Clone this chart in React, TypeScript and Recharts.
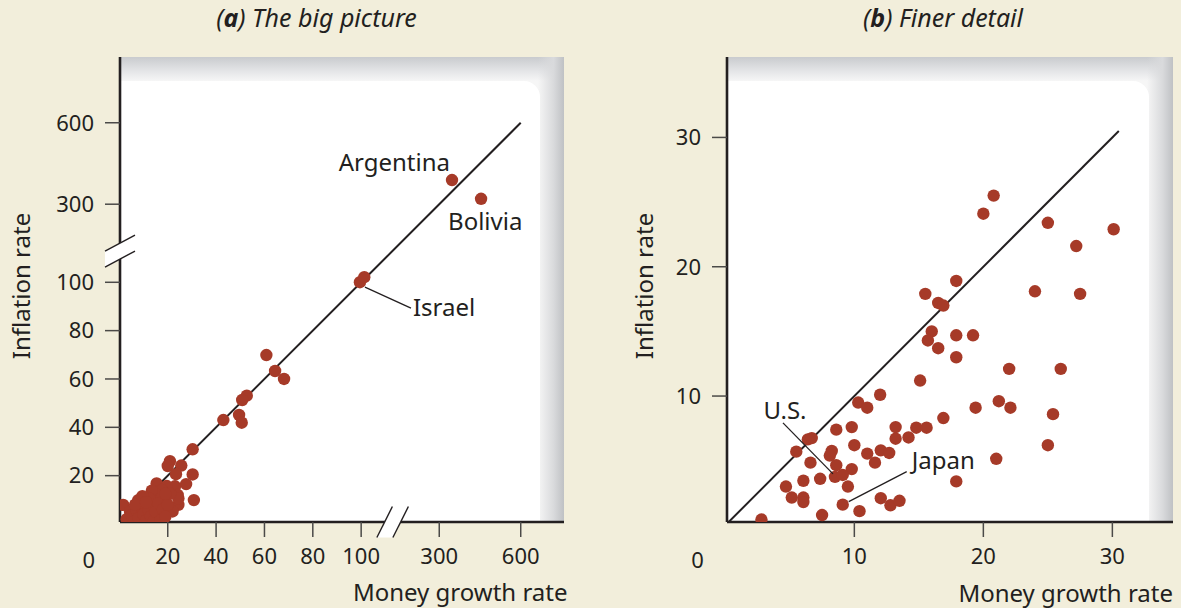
import React from "react";
import { ScatterChart, Scatter, XAxis, YAxis, ReferenceLine, ReferenceDot } from "recharts";

const FONT = "'Noto Sans', 'DejaVu Sans', sans-serif";
const INK = "#231f20";
const TICK = "#4b4a48";
const DOT = "#a63a28";
const PAGE = "#f2eedb";

// (a) The big picture: money growth vs inflation, % per year
const bigMoney = [
  347, 454, 99.5, 108, 68.1, 64.4, 60.8, 52.7, 50.8, 49.5, 50.6, 43.0, 30.3,
  20.9, 20.0, 25.6, 23.4, 30.3, 27.6, 23.0, 15.4, 19.6, 17.5, 30.8, 24.1, 24.4,
  24.4, 22.0, 18.9, 15.8, 13.4, 1.6, 7.8, 10.6, 16.8, 4.4, 14.0,
  3, 5, 6, 7, 8, 9, 10, 11, 12, 12.5, 13, 14, 15, 16, 17, 18, 19, 20, 21, 9.5,
  6.5, 11, 19,
];
const bigInflation = [
  389, 320, 100.2, 113, 60.0, 63.3, 69.9, 53.1, 51.3, 45.1, 41.9, 43.0, 30.9,
  26.0, 24.0, 24.2, 20.6, 20.5, 16.5, 15.6, 16.8, 15.7, 14.1, 9.9, 12.0, 7.9,
  10.6, 5.2, 10.2, 12.0, 13.8, 7.9, 9.9, 7.4, 3.7, 5.1, 7.2,
  2, 3.5, 1, 5.5, 2.5, 7, 4, 1.5, 6, 10.5, 3, 0.8, 5, 8.5, 1.5, 6, 3, 8, 12.5,
  11.5, 8, 9, 12.5,
];
const bigTicks = [20, 40, 60, 80, 100, 300, 600];
const bigBreak = 180;
const bigDiagonal = [0, 600];

// (b) Finer detail
const fineMoney = [
  20.8, 20.0, 25.0, 30.1, 27.2, 17.9, 15.5, 16.5, 16.9, 24.0, 27.5, 16.0, 15.7,
  17.9, 19.2, 16.5, 17.9, 22.0, 26.0, 15.1, 12.0, 10.3, 21.2, 11.0, 19.4, 22.1,
  25.4, 16.9, 8.6, 9.8, 13.2, 14.8, 15.6, 6.4, 6.7, 13.2, 14.2, 10.0, 25.0, 5.5,
  8.25, 8.1, 11.0, 12.05, 12.7, 6.6, 8.6, 11.6, 9.8, 21.0, 8.5, 9.1, 6.05, 7.35,
  9.5, 4.7, 17.9, 5.15, 6.05, 6.05, 12.05, 12.8, 13.5, 9.1, 10.4, 7.5, 2.8,
];
const fineInflation = [
  25.5, 24.1, 23.4, 22.9, 21.6, 18.9, 17.9, 17.2, 17.0, 18.1, 17.9, 15.0, 14.3,
  14.7, 14.7, 13.7, 13.0, 12.1, 12.1, 11.2, 10.1, 9.5, 9.6, 9.1, 9.1, 9.1,
  8.6, 8.3, 7.4, 7.6, 7.6, 7.55, 7.55, 6.65, 6.75, 6.7, 6.8, 6.2, 6.2, 5.7,
  5.75, 5.4, 5.55, 5.8, 5.6, 4.85, 4.65, 4.85, 4.35, 5.15, 3.75, 3.9, 3.45, 3.6,
  3.0, 3.0, 3.4, 2.15, 2.15, 1.8, 2.1, 1.55, 1.9, 1.6, 1.1, 0.8, 0.45,
];
const fineTicks = [10, 20, 30];
const fineDiagonal = [0, 30.5];

// labelled countries
const bigNames = ["Argentina", "Bolivia", "Israel"];
const bigNameMoney = [347, 454, 99.5];
const bigNameInflation = [389, 320, 100.2];
const fineNames = ["U.S.", "Japan"];
const fineNameMoney = [8.5, 9.1];
const fineNameInflation = [3.75, 1.6];

type Note = { dx: number; dy: number; anchor: "start" | "middle" | "end"; lead?: number[] };
const noteStyle: Record<string, Note> = {
  Argentina: { dx: -2, dy: -9, anchor: "end" },
  Bolivia: { dx: -33, dy: 31, anchor: "start" },
  Israel: { dx: 53, dy: 34, anchor: "start", lead: [5, 5, 51, 26] },
  "U.S.": { dx: -50, dy: -58, anchor: "middle", lead: [-2, -3, -52, -54] },
  Japan: { dx: 69, dy: -36, anchor: "start", lead: [6, -3, 64, -33] },
};

// squeeze 100-300 and 300-600 into short stretches, as the cut axes do
const squeeze = (v: number) =>
  v <= 100 ? v : v <= 300 ? 100 + ((v - 100) * 32.3) / 200 : 132.3 + ((v - 300) * 33.7) / 300;

const bigData = bigMoney.map((m, i) => ({ x: squeeze(m), y: squeeze(bigInflation[i]) }));
const fineData = fineMoney.map((m, i) => ({ x: m, y: fineInflation[i] }));
const bigTickPos = bigTicks.map(squeeze);
const bigTickLabel = (v: number) => {
  let best = 0;
  bigTickPos.forEach((p, i) => {
    if (Math.abs(p - v) < Math.abs(bigTickPos[best] - v)) best = i;
  });
  return String(bigTicks[best]);
};

const dotShape = (p: any) => <circle cx={p.cx} cy={p.cy} r={6.2} fill={DOT} />;

const noteShape = (name: string) => (p: any) => {
  const s = noteStyle[name];
  return (
    <g>
      {s.lead && (
        <line
          x1={p.cx + s.lead[0]}
          y1={p.cy + s.lead[1]}
          x2={p.cx + s.lead[2]}
          y2={p.cy + s.lead[3]}
          stroke={INK}
          strokeWidth={1.3}
        />
      )}
      <text
        x={p.cx + s.dx}
        y={p.cy + s.dy}
        textAnchor={s.anchor}
        fontSize={24}
        fontFamily={FONT}
        fill={INK}
      >
        {name}
      </text>
    </g>
  );
};

const xBreakShape = (p: any) => {
  const { cx, cy } = p;
  return (
    <g>
      <polygon
        points={`${cx - 15.5},${cy + 15.5} ${cx},${cy - 15.5} ${cx + 16},${cy - 15.5} ${cx + 0.5},${cy + 15.5}`}
        fill="#fff"
      />
      <line x1={cx - 15.5} y1={cy + 15.5} x2={cx} y2={cy - 15.5} stroke={INK} strokeWidth={1.4} />
      <line x1={cx + 0.5} y1={cy + 15.5} x2={cx + 16} y2={cy - 15.5} stroke={INK} strokeWidth={1.4} />
    </g>
  );
};

const yBreakShape = (p: any) => {
  const { cx, cy } = p;
  return (
    <g>
      <polygon
        points={`${cx - 15},${cy} ${cx + 15},${cy - 16} ${cx + 15},${cy} ${cx - 15},${cy + 16}`}
        fill="#fff"
      />
      <line x1={cx - 15} y1={cy} x2={cx + 15} y2={cy - 16} stroke={INK} strokeWidth={1.4} />
      <line x1={cx - 15} y1={cy + 16} x2={cx + 15} y2={cy} stroke={INK} strokeWidth={1.4} />
    </g>
  );
};

const axisProps = {
  type: "number" as const,
  allowDataOverflow: true,
  interval: 0 as const,
  axisLine: { stroke: INK, strokeWidth: 2.6 },
  tickLine: { stroke: TICK, strokeWidth: 1.5 },
  tickSize: 15,
  tickMargin: 11,
  tick: { fill: INK, fontSize: 22, fontFamily: FONT },
};

function PlotBackdrop({ left, top, width, height }: { left: number; top: number; width: number; height: number }) {
  return (
    <div
      style={{
        position: "absolute",
        left,
        top,
        width,
        height,
        background: "linear-gradient(to bottom, #c9cbce 0px, #e4e5e7 14px, #f6f6f6 24px)",
      }}
    >
      <div
        style={{
          position: "absolute",
          right: 0,
          top: 0,
          bottom: 0,
          width: 26,
          background: "linear-gradient(to right, rgba(246,246,246,0), #d9dadc 60%, #bfc1c4)",
        }}
      />
      <div
        style={{
          position: "absolute",
          left: 0,
          top: 24,
          right: 24,
          bottom: 0,
          background: "#fff",
          borderTopRightRadius: 16,
        }}
      />
    </div>
  );
}

function BigPicture() {
  return (
    <ScatterChart width={600} height={608} margin={{ top: 57, right: 36, bottom: 46, left: 60 }}>
      <XAxis {...axisProps} dataKey="x" height={40} domain={[0.25, 183.9]} ticks={bigTickPos} tickFormatter={bigTickLabel} />
      <YAxis {...axisProps} dataKey="y" width={60} domain={[0.83, 193.2]} ticks={bigTickPos} tickFormatter={bigTickLabel} />
      <ReferenceLine
        segment={[
          { x: squeeze(bigDiagonal[0]), y: squeeze(bigDiagonal[0]) },
          { x: squeeze(bigDiagonal[1]), y: squeeze(bigDiagonal[1]) },
        ]}
        stroke={INK}
        strokeWidth={2}
        ifOverflow="hidden"
      />
      <Scatter data={bigData} shape={dotShape} isAnimationActive={false} />
      {bigNames.map((n, i) => (
        <ReferenceDot
          key={n}
          x={squeeze(bigNameMoney[i])}
          y={squeeze(bigNameInflation[i])}
          r={0}
          shape={noteShape(n)}
          ifOverflow="visible"
        />
      ))}
      <ReferenceDot x={squeeze(bigBreak)} y={0.83} r={0} shape={xBreakShape} ifOverflow="visible" />
      <ReferenceDot x={0.25} y={squeeze(bigBreak)} r={0} shape={yBreakShape} ifOverflow="visible" />
    </ScatterChart>
  );
}

function FinerDetail() {
  return (
    <ScatterChart width={581} height={608} margin={{ top: 57, right: 8, bottom: 46, left: 67 }}>
      <XAxis {...axisProps} dataKey="x" height={40} domain={[0.13, 34.7]} ticks={fineTicks} />
      <YAxis {...axisProps} dataKey="y" width={60} domain={[0.26, 36.22]} ticks={fineTicks} />
      <ReferenceLine
        segment={[
          { x: fineDiagonal[0], y: fineDiagonal[0] },
          { x: fineDiagonal[1], y: fineDiagonal[1] },
        ]}
        stroke={INK}
        strokeWidth={2}
        ifOverflow="hidden"
      />
      <Scatter data={fineData} shape={dotShape} isAnimationActive={false} />
      {fineNames.map((n, i) => (
        <ReferenceDot
          key={n}
          x={fineNameMoney[i]}
          y={fineNameInflation[i]}
          r={0}
          shape={noteShape(n)}
          ifOverflow="visible"
        />
      ))}
    </ScatterChart>
  );
}

export default function App() {
  const txt = { fill: INK, fontFamily: FONT };
  return (
    <div
      style={{
        position: "absolute",
        left: 0,
        top: 0,
        width: 1181,
        height: 608,
        background: PAGE,
        overflow: "hidden",
        fontFamily: FONT,
      }}
    >
      <PlotBackdrop left={120} top={57} width={444} height={465} />
      <PlotBackdrop left={727} top={57} width={446} height={465} />
      <div style={{ position: "absolute", left: 0, top: 0 }}>
        <BigPicture />
      </div>
      <div style={{ position: "absolute", left: 600, top: 0 }}>
        <FinerDetail />
      </div>
      <svg width={1181} height={608} style={{ position: "absolute", left: 0, top: 0, pointerEvents: "none" }}>
        <text x={316.5} y={26.5} textAnchor="middle" fontSize={25} fontStyle="italic" {...txt}>
          (<tspan fontWeight="bold">a</tspan>) The big picture
        </text>
        <text x={943} y={26.5} textAnchor="middle" fontSize={25} fontStyle="italic" {...txt}>
          (<tspan fontWeight="bold">b</tspan>) Finer detail
        </text>
        <text x={88.8} y={567.5} textAnchor="middle" fontSize={22} {...txt}>0</text>
        <text x={697.5} y={567.5} textAnchor="middle" fontSize={22} {...txt}>0</text>
        <text x={567.5} y={601} textAnchor="end" fontSize={24} {...txt}>Money growth rate</text>
        <text x={1173} y={601.5} textAnchor="end" fontSize={24} {...txt}>Money growth rate</text>
        <text x={30} y={286} textAnchor="middle" fontSize={24} transform="rotate(-90 30 286)" {...txt}>
          Inflation rate
        </text>
        <text x={653} y={286} textAnchor="middle" fontSize={24} transform="rotate(-90 653 286)" {...txt}>
          Inflation rate
        </text>
      </svg>
    </div>
  );
}
